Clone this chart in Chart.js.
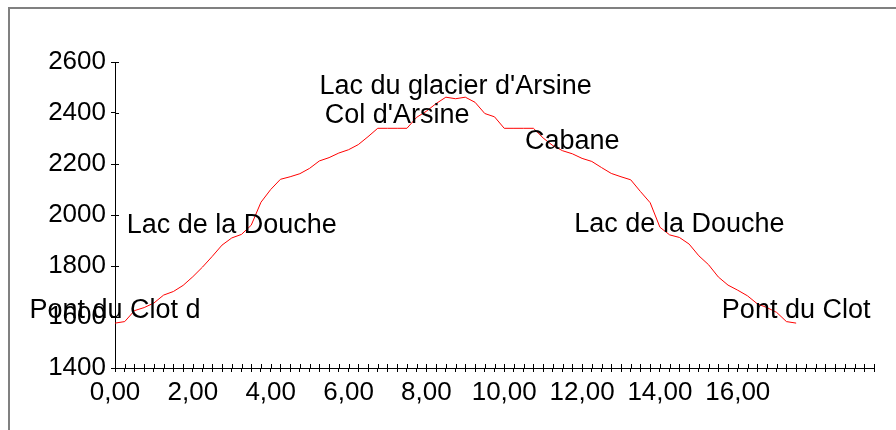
<!DOCTYPE html>
<html>
<head>
<meta charset="utf-8">
<script src="https://cdn.jsdelivr.net/npm/chart.js@4"></script>
<style>
    body { margin: 0; background: #fff; }
    #wrap { position: relative; width: 896px; height: 430px; overflow: hidden; }
    #frame { position: absolute; left: 8px; top: 7px; width: 1000px; height: 1000px;
             border-left: 2px solid #808080; border-top: 2px solid #808080; }
    canvas { position: absolute; left: 0; top: 0; }
</style>
</head>
<body>
<div id="wrap">
    <div id="frame"></div>
    <canvas id="profileChart" width="896" height="430"></canvas>
</div>
<script>
// Distance (km)
const km = [
    0, 0.25, 0.5, 0.75, 1, 1.25, 1.5, 1.75, 2, 2.25, 2.5, 2.75,
    3, 3.25, 3.5, 3.75, 4, 4.25, 4.5, 4.75, 5, 5.25, 5.5, 5.75,
    6, 6.25, 6.5, 6.75, 7, 7.25, 7.5, 7.75, 8, 8.25, 8.5, 8.75,
    9, 9.25, 9.5, 9.75, 10, 10.25, 10.5, 10.75, 11, 11.25, 11.5, 11.75,
    12, 12.25, 12.5, 12.75, 13, 13.25, 13.5, 13.75, 14, 14.25, 14.5, 14.75,
    15, 15.25, 15.5, 15.75, 16, 16.25, 16.5, 16.75, 17, 17.25, 17.5
];
// Altitude (m)
const altitude = [
    1576, 1582, 1625, 1637, 1655, 1686, 1700, 1724, 1758, 1796, 1838, 1882,
    1910, 1924, 1960, 2050, 2100, 2140, 2150, 2162, 2183, 2212, 2225, 2243,
    2256, 2276, 2307, 2340, 2340, 2340, 2340, 2383, 2407, 2437, 2462, 2456,
    2462, 2442, 2398, 2385, 2340, 2340, 2340, 2340, 2302, 2272, 2252, 2240,
    2222, 2210, 2186, 2163, 2150, 2138, 2092, 2048, 1952, 1922, 1912, 1886,
    1840, 1805, 1757, 1725, 1705, 1683, 1652, 1637, 1618, 1582, 1576
];
// Points nommés
const stopKm = [0, 3, 7.25, 8.75, 11.75, 14.5, 17.5];
const stopNames = ['Pont du Clot d', 'Lac de la Douche', "Col d'Arsine", "Lac du glacier d'Arsine",
                   'Cabane', 'Lac de la Douche', 'Pont du Clot'];
// Étiquettes de l'axe X
const xTickValues = [0, 2, 4, 6, 8, 10, 12, 14, 16];
const xTickLabels = ['0,00', '2,00', '4,00', '6,00', '8,00', '10,00', '12,00', '14,00', '16,00'];

const FONT = '"Liberation Sans", Arial, sans-serif';

// Graduations en croix + noms des étapes
const crossTicks = {
    id: 'crossTicks',
    afterDraw(chart) {
        const { ctx, chartArea, scales } = chart;
        ctx.save();
        ctx.strokeStyle = '#000';
        ctx.lineWidth = 1;
        ctx.beginPath();
        scales.x.ticks.forEach(t => {
            const px = Math.round(scales.x.getPixelForValue(t.value)) + 0.5;
            ctx.moveTo(px, chartArea.bottom);
            ctx.lineTo(px, chartArea.bottom - 4);
        });
        scales.y.ticks.forEach(t => {
            const py = Math.round(scales.y.getPixelForValue(t.value)) + 0.5;
            ctx.moveTo(chartArea.left, py);
            ctx.lineTo(chartArea.left + 4, py);
        });
        ctx.stroke();

        ctx.fillStyle = '#000';
        ctx.font = '27px ' + FONT;
        ctx.textAlign = 'center';
        ctx.textBaseline = 'alphabetic';
        stopKm.forEach((k, i) => {
            const idx = km.indexOf(k);
            const px = scales.x.getPixelForValue(k);
            const py = scales.y.getPixelForValue(altitude[idx]);
            ctx.fillText(stopNames[i], px, py - 5);
        });
        ctx.restore();
    }
};

const ctx = document.getElementById('profileChart').getContext('2d');
const profileChart = new Chart(ctx, {
    type: 'line',
    data: {
        datasets: [{
            data: km.map((k, i) => ({ x: k, y: altitude[i] })),
            borderColor: '#ff0000',
            borderWidth: 1,
            pointRadius: 0,
            fill: false,
            tension: 0
        }]
    },
    options: {
        responsive: false,
        animation: false,
        layout: { padding: { left: 0, right: 22, top: 62, bottom: 0 } },
        plugins: {
            legend: { display: false },
            tooltip: { enabled: false }
        },
        scales: {
            x: {
                type: 'linear',
                min: 0,
                max: 19.5,
                afterFit: s => { s.height = 62; },
                grid: { drawOnChartArea: false, tickLength: 4, color: '#000' },
                border: { color: '#000', width: 1 },
                ticks: {
                    stepSize: 0.25,
                    maxTicksLimit: 200,
                    autoSkip: false,
                    maxRotation: 0,
                    padding: 5,
                    color: '#000',
                    font: { family: FONT, size: 26 },
                    callback: v => {
                        const i = xTickValues.indexOf(v);
                        return i >= 0 ? xTickLabels[i] : '';
                    }
                }
            },
            y: {
                min: 1400,
                max: 2600,
                afterFit: s => { s.width = 115; },
                grid: { drawOnChartArea: false, tickLength: 4, color: '#000' },
                border: { color: '#000', width: 1 },
                ticks: {
                    stepSize: 200,
                    padding: 5,
                    color: '#000',
                    font: { family: FONT, size: 26 },
                    callback: v => String(v)
                }
            }
        }
    },
    plugins: [crossTicks]
});
</script>
</body>
</html>
